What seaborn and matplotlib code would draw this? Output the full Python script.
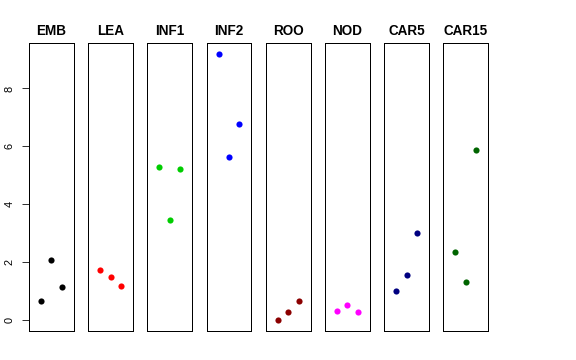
import numpy as np
import pandas as pd
import seaborn as sns
import matplotlib.pyplot as plt

sns.set_style("white")
plt.rcParams['font.family'] = ['Liberation Sans', 'DejaVu Sans']

# tissues and their replicate values (3 samples each)
tissues = ["EMB", "LEA", "INF1", "INF2", "ROO", "NOD", "CAR5", "CAR15"]
colors = ["black", "red", "#00CD00", "blue", "#8B0000", "magenta", "#000080", "#006400"]
sample = [1, 2, 3]
EMB = [0.68, 2.08, 1.15]
LEA = [1.72, 1.49, 1.17]
INF1 = [5.30, 3.46, 5.23]
INF2 = [9.19, 5.65, 6.76]
ROO = [0.00, 0.28, 0.66]
NOD = [0.33, 0.53, 0.28]
CAR5 = [1.02, 1.56, 3.00]
CAR15 = [2.36, 1.32, 5.86]
values = [EMB, LEA, INF1, INF2, ROO, NOD, CAR5, CAR15]

df = pd.DataFrame({
    "tissue": np.repeat(tissues, len(sample)),
    "sample": sample * len(tissues),
    "expr": np.concatenate(values),
})

ymin, ymax = df.expr.min(), df.expr.max()
pad = 0.04 * (ymax - ymin)

fig, axes = plt.subplots(1, 8, figsize=(8, 5), dpi=72, sharey=True)
fig.subplots_adjust(left=0.0503, right=0.8477, top=0.8797, bottom=0.0806, wspace=0.32)

for ax, t, c in zip(axes, tissues, colors):
    sub = df[df.tissue == t]
    sns.scatterplot(data=sub, x="sample", y="expr", color=c, s=38,
                    edgecolor=c, linewidth=0, ax=ax)
    ax.set_xlim(-0.16, 4.16)
    ax.set_ylim(ymin - pad, ymax + pad)
    ax.set_xticks([])
    ax.set_xlabel("")
    ax.set_ylabel("")
    ax.set_title(t, fontsize=13.5, fontweight="bold", color="black", pad=8)
    for sp in ax.spines.values():
        sp.set_visible(True)
        sp.set_color("black")
        sp.set_linewidth(1)

axes[0].set_yticks([0, 2, 4, 6, 8])
axes[0].tick_params(axis="y", left=True, length=7, width=0.8, labelsize=11,
                    pad=7, color="black", labelcolor="black")
for lab in axes[0].get_yticklabels():
    lab.set_rotation(90)
    lab.set_va("center")
for ax in axes[1:]:
    ax.tick_params(axis="y", left=False, labelleft=False)

plt.savefig("out.png", dpi=72)
